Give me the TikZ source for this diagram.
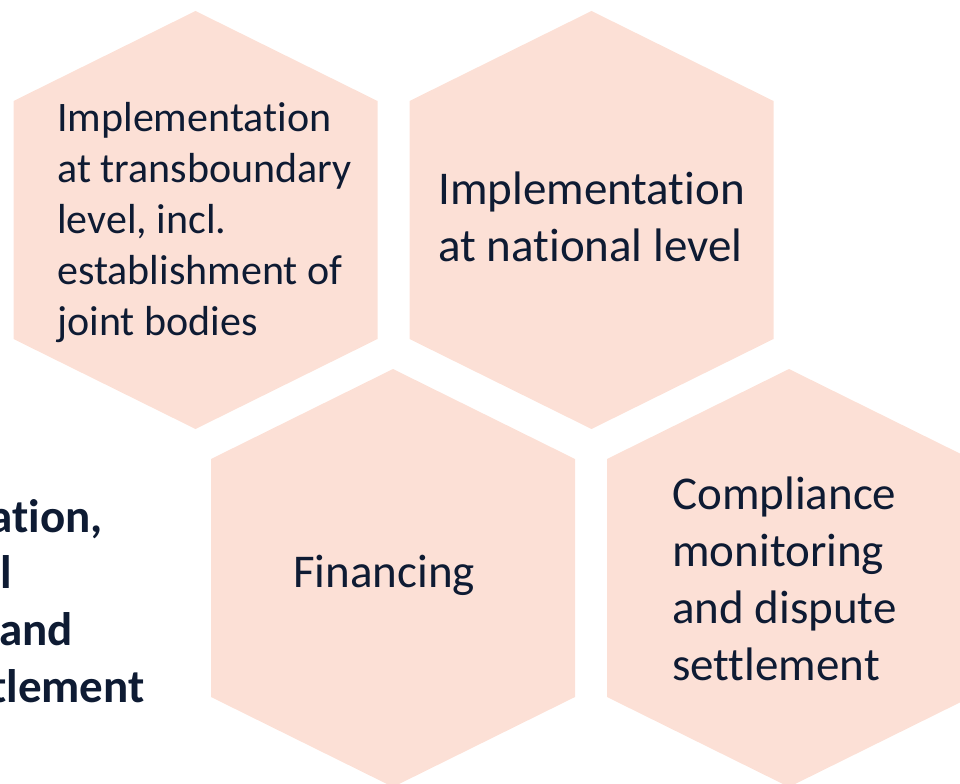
\documentclass[tikz,border=0pt]{standalone}
\usepackage{fontspec}
\setmainfont{Carlito}[Ligatures=NoCommon]
\usepackage{tikz}

\definecolor{hexpeach}{RGB}{252,224,214}
\definecolor{inkblue}{RGB}{14,27,51}

\tikzset{
  hexcell/.style={fill=hexpeach},
  celltext/.style={anchor=base west, align=left, inner sep=0pt, text=inkblue,
    font=\fontsize{35.25}{42.75}\selectfont},
  smalltext/.style={celltext, font=\fontsize{31.5}{38.25}\selectfont},
  cuttext/.style={anchor=base east, inner sep=0pt, text=inkblue,
    font=\fontsize{35.25}{42.75}\selectfont\bfseries}
}

% one flattened hexagon around a centre given in pixels
\newcommand{\hexat}[2]{%
  \fill[hexcell] (#1,#2) ++(0,-209) -- ++(182,90) -- ++(0,238)
    -- ++(-182,90) -- ++(-182,-90) -- ++(0,-238) -- cycle;}

\begin{document}
\begin{tikzpicture}[x=0.75pt, y=-0.75pt]
  \useasboundingbox (0,0) rectangle (960,784);
  \clip (0,0) rectangle (960,784);

  \foreach \cx/\cy in {195.5/220, 591.5/220, 393/578, 789/578}
    {\hexat{\cx}{\cy}}

  % nodes sit on the baseline of their last line
  \node (trans) [smalltext] at (57,335) {Implementation\\at transboundary\\level, incl.\\establishment of\\joint bodies};
  \node (natio) [celltext] at (438,262) {Implementation\\at national level};
  \node (finan) [celltext] at (293,587) {Financing};
  \node (compl) [celltext] at (672,680) {Compliance\\monitoring\\and dispute\\settlement};

  % text of a cell that lies off the left edge
  \node (cutA) [cuttext] at (103,532) {ation,};
  \node (cutB) [cuttext] at (12,588) {l};
  \node (cutC) [cuttext] at (73,645) {and};
  \node (cutD) [cuttext] at (145,702) {tlement};
\end{tikzpicture}
\end{document}
